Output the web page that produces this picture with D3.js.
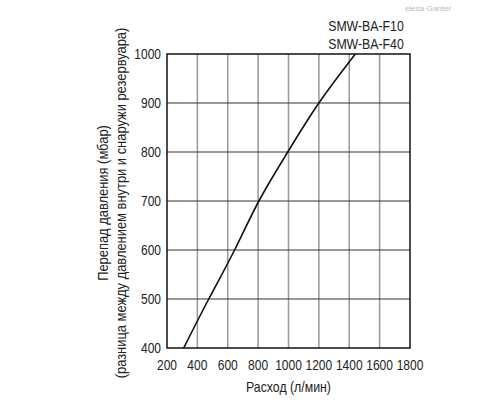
<!DOCTYPE html>
<html><head><meta charset="utf-8">
<script src="https://cdn.jsdelivr.net/npm/d3@7"></script>
<style>body{margin:0;background:#fff;}
svg text{font-family:"Liberation Sans",Arial,sans-serif;}</style>
</head><body><svg id="chart" width="500" height="400"></svg>
<script>
"use strict";

var xTicks = [200, 400, 600, 800, 1000, 1200, 1400, 1600, 1800];
var yTicks = [400, 500, 600, 700, 800, 900, 1000];
var flow = [310, 475, 645, 805, 995, 1200, 1440];
var pressure = [400, 500, 600, 700, 800, 900, 1000];
var legendLabels = ["SMW-BA-F10", "SMW-BA-F40"];

var Chart = (function(){
	var m = {l: 167, r: 410, t: 54, b: 348};

	function narrow(sel, k) {
		sel.each(function(){
			var w = this.getComputedTextLength();
			d3.select(this).attr("textLength", w * k).attr("lengthAdjust", "spacingAndGlyphs");
		});
	}

	function init(el) {
		var svg = d3.select("#" + el);
		var x = d3.scaleLinear().domain([200, 1800]).range([m.l, m.r]);
		var y = d3.scaleLinear().domain([400, 1000]).range([m.b, m.t]);

		svg.selectAll("line.vx").data(xTicks.slice(1, -1)).enter().append("line")
			.attr("x1", x).attr("x2", x).attr("y1", m.t).attr("y2", m.b)
			.attr("stroke", "#999").attr("stroke-width", 1.5);
		svg.selectAll("line.hy").data(yTicks.slice(1, -1)).enter().append("line")
			.attr("y1", y).attr("y2", y).attr("x1", m.l).attr("x2", m.r)
			.attr("stroke", "#333").attr("stroke-width", 1);
		svg.append("rect").attr("x", m.l).attr("y", m.t)
			.attr("width", m.r - m.l).attr("height", m.b - m.t)
			.attr("fill", "none").attr("stroke", "#111").attr("stroke-width", 1.5);

		svg.selectAll("text.xt").data(xTicks).enter().append("text")
			.attr("x", x).attr("y", m.b + 22).attr("text-anchor", "middle")
			.attr("font-size", 15).attr("fill", "#222").text(function(d){ return d; })
			.call(narrow, 0.8);
		svg.selectAll("text.yt").data(yTicks).enter().append("text")
			.attr("x", m.l - 6).attr("y", function(d){ return y(d) + 5; }).attr("text-anchor", "end")
			.attr("font-size", 15).attr("fill", "#222").text(function(d){ return d; })
			.call(narrow, 0.8);

		var pts = flow.map(function(f, i){ return [f, pressure[i]]; });
		svg.append("path").datum(pts)
			.attr("d", d3.line().x(function(d){ return x(d[0]); }).y(function(d){ return y(d[1]); }).curve(d3.curveNatural))
			.attr("fill", "none").attr("stroke", "#111").attr("stroke-width", 1.6);

		svg.selectAll("text.lg").data(legendLabels).enter().append("text")
			.attr("x", 366).attr("y", function(d, i){ return 31 + i * 18; })
			.attr("text-anchor", "middle").attr("font-size", 15).attr("fill", "#222")
			.text(function(d){ return d; })
			.call(narrow, 0.82);

		svg.append("text").attr("x", (m.l + m.r) / 2).attr("y", 392)
			.attr("text-anchor", "middle").attr("font-size", 15).attr("fill", "#222")
			.text("Расход (л/мин)")
			.call(narrow, 0.82);
		var yl = svg.append("g").attr("transform", "translate(108," + ((m.t + m.b) / 2 + 2) + ") rotate(-90)");
		yl.selectAll("text").data(["Перепад давления (мбар)", "(разница между давлением внутри и снаружи резервуара)"])
			.enter().append("text")
			.attr("x", 0).attr("y", function(d, i){ return i * 18; })
			.attr("text-anchor", "middle").attr("font-size", 15).attr("fill", "#222")
			.text(function(d){ return d; })
			.call(narrow, 0.86);

		svg.append("text").attr("x", 428).attr("y", 11).attr("text-anchor", "middle")
			.attr("font-size", 8).attr("fill", "#bbb").text("elesa·Ganter");
	}

	return {"init": init};
}());

Chart.init("chart");
</script></body></html>
